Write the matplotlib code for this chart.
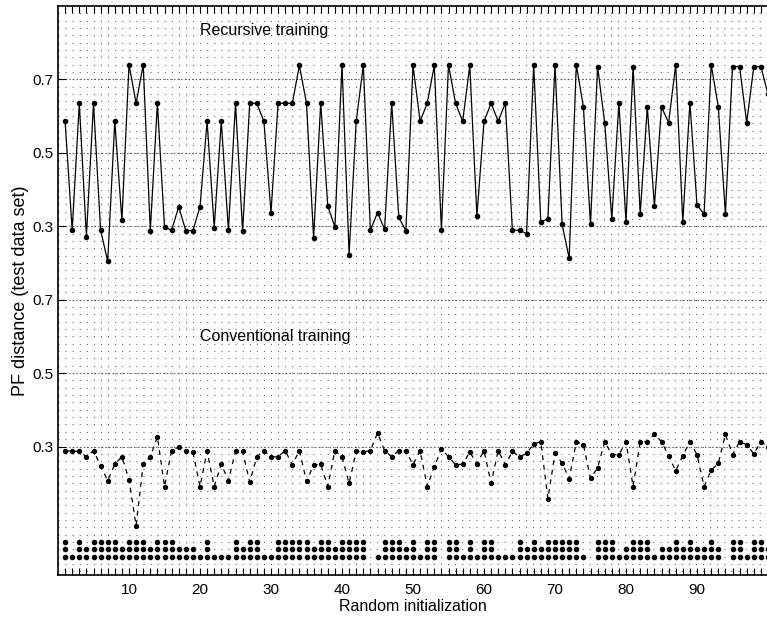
import numpy as np
import matplotlib
matplotlib.use('Agg')
import matplotlib.pyplot as plt
from matplotlib.ticker import FixedLocator

#%%
# data (run index 1..100)
runs = np.arange(1, 101)

recursive = [0.586, 0.289, 0.635, 0.272, 0.635, 0.289, 0.205, 0.586, 0.316, 0.740,
             0.635, 0.740, 0.288, 0.635, 0.298, 0.289, 0.353, 0.288, 0.288, 0.353,
             0.586, 0.296, 0.586, 0.289, 0.635, 0.286, 0.635, 0.635, 0.586, 0.337,
             0.635, 0.635, 0.635, 0.738, 0.635, 0.268, 0.635, 0.355, 0.298, 0.740,
             0.223, 0.586, 0.738, 0.289, 0.337, 0.292, 0.635, 0.324, 0.288, 0.738,
             0.586, 0.635, 0.738, 0.290, 0.740, 0.635, 0.586, 0.738, 0.327, 0.586,
             0.635, 0.586, 0.635, 0.289, 0.289, 0.280, 0.740, 0.312, 0.320, 0.740,
             0.305, 0.213, 0.740, 0.625, 0.305, 0.735, 0.582, 0.320, 0.637, 0.312,
             0.735, 0.333, 0.625, 0.355, 0.625, 0.582, 0.740, 0.312, 0.637, 0.358,
             0.333, 0.740, 0.625, 0.333, 0.735, 0.735, 0.582, 0.735, 0.735, 0.660]

conventional = [0.289, 0.287, 0.287, 0.272, 0.289, 0.247, 0.207, 0.252, 0.272, 0.210,
                0.084, 0.252, 0.272, 0.327, 0.191, 0.289, 0.299, 0.287, 0.285, 0.191,
                0.287, 0.191, 0.252, 0.207, 0.287, 0.287, 0.203, 0.272, 0.289, 0.272,
                0.272, 0.289, 0.250, 0.289, 0.205, 0.250, 0.252, 0.191, 0.289, 0.272,
                0.200, 0.287, 0.285, 0.289, 0.337, 0.289, 0.272, 0.289, 0.289, 0.250,
                0.289, 0.191, 0.244, 0.294, 0.272, 0.250, 0.252, 0.285, 0.253, 0.289,
                0.200, 0.289, 0.250, 0.287, 0.272, 0.281, 0.307, 0.313, 0.158, 0.281,
                0.255, 0.212, 0.313, 0.305, 0.213, 0.242, 0.313, 0.278, 0.278, 0.313,
                0.191, 0.313, 0.313, 0.334, 0.313, 0.275, 0.234, 0.275, 0.313, 0.278,
                0.191, 0.235, 0.254, 0.333, 0.278, 0.313, 0.305, 0.280, 0.313, 0.300]

# number of stacked dots under each run (0..3)
dot_count = [3, 1, 3, 2, 3, 3, 3, 3, 2, 3,
             3, 3, 2, 3, 3, 3, 2, 2, 2, 1,
             3, 1, 1, 1, 3, 2, 3, 3, 1, 1,
             3, 3, 3, 3, 3, 2, 3, 3, 2, 3,
             3, 3, 3, 0, 1, 3, 3, 3, 2, 3,
             1, 3, 3, 0, 3, 3, 1, 3, 1, 3,
             3, 1, 1, 1, 3, 2, 3, 2, 3, 3,
             3, 3, 3, 1, 0, 3, 3, 3, 1, 2,
             3, 3, 3, 1, 2, 2, 3, 2, 3, 2,
             2, 3, 2, 0, 3, 3, 1, 3, 3, 2]

offset = 0.6          # recursive curve is stacked above the conventional one
dot_rows = [0.0, 0.02, 0.04]
ytick_vals = [0.3, 0.5, 0.7]
xtick_labels = [10, 20, 30, 40, 50, 60, 70, 80, 90]

#%%
plt.rcParams['font.family'] = ['Liberation Sans', 'DejaVu Sans']
plt.rcParams['lines.scale_dashes'] = False

fig = plt.figure(figsize=(7.67, 6.19), dpi=100)
ax = fig.add_axes([58/767, 1 - 575/619, 710/767, 569/619])

# dotted lattice grid
for yy in np.arange(-0.04, 1.5, 0.02):
    ax.axhline(yy, color='0.35', lw=0.8, ls=(0, (0.7, 4.4)), zorder=0)
for yy in ytick_vals:
    for yv in (yy, yy + offset):
        ax.axhline(yv, color='0.35', lw=0.8, ls=(0, (1.0, 1.6)), zorder=0)

rec = np.array(recursive) + offset
ax.plot(runs, rec, color='black', lw=0.9, marker='o', ms=3.0)
ax.plot(runs, conventional, color='black', lw=0.9, ls=(0, (3.5, 3.5)),
        marker='o', ms=2.8)

cnt = np.array(dot_count)
for k, yr in enumerate(dot_rows):
    sel = cnt > k
    ax.plot(runs[sel], np.full(sel.sum(), yr), ls='none', marker='o',
            ms=3.0, color='black')

ax.text(20, 1.432, 'Recursive training', fontsize=11.5, va='center')
ax.text(20, 0.60, 'Conventional training', fontsize=11.5, va='center')

ax.set_xlim(0, 100)
ax.set_ylim(-0.05, 1.5)

ax.xaxis.set_major_locator(FixedLocator(runs))
ax.set_xticklabels([str(v) if v in xtick_labels else '' for v in runs])
ax.tick_params(axis='x', direction='in', length=5, width=0.8, top=True,
               labelsize=11, pad=6)
ax.yaxis.set_major_locator(FixedLocator(ytick_vals + [v + offset for v in ytick_vals]))
ax.set_yticklabels([str(v) for v in ytick_vals] * 2)
ax.tick_params(axis='y', direction='in', length=6, width=0.8, labelsize=11)

ax.set_xlabel('Random initialization', fontsize=11.5, labelpad=1)
ax.set_ylabel('PF distance (test data set)', fontsize=13, labelpad=2)

for s in ['left', 'top', 'bottom']:
    ax.spines[s].set_linewidth(1.2)
ax.spines['right'].set_visible(False)

fig.savefig('out.png', dpi=100)
